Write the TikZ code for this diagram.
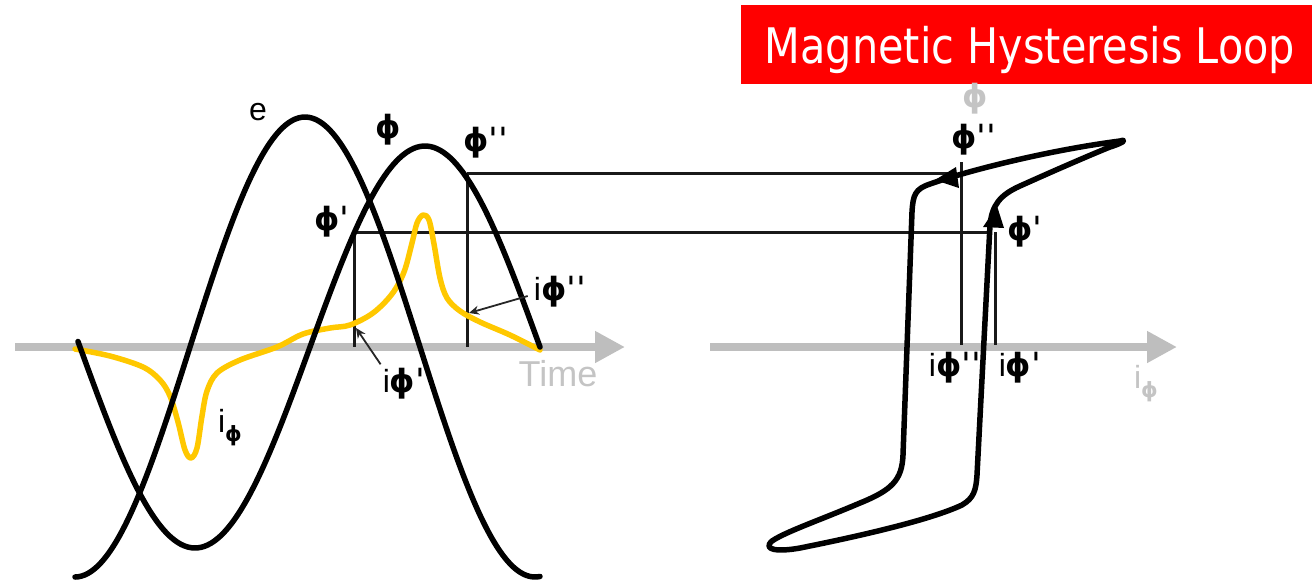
\documentclass[tikz,border=0pt]{standalone}
\usepackage{fontspec}
\usetikzlibrary{arrows.meta}
\setmainfont{Liberation Sans}
\newfontfamily\dvs{DejaVu Sans}
\definecolor{titlered}{HTML}{FF0000}
\definecolor{axisgray}{HTML}{BEBEBE}
\definecolor{labgray}{HTML}{C4C4C4}
\definecolor{ygold}{HTML}{FFC800}
\newcommand\myphi{{\dvs\bfseries ϕ}}
\newcommand\myprime{{\dvs\bfseries ˈ}}
\newcommand\subphi{\raisebox{-9pt}{\fontsize{21}{21}\selectfont\dvs\bfseries ϕ}}
\tikzset{
  curveline/.style={line width=5.5pt, black, line cap=round, line join=round},
  currline/.style={line width=5.5pt, ygold, line cap=round, line join=round},
  guide/.style={line width=3pt, black!90},
  axisline/.style={line width=8pt, axisgray, -{Triangle[length=30pt,width=30pt]}},
  lab/.style={font=\fontsize{32}{32}\selectfont, inner sep=0pt, text=black},
  glab/.style={lab, text=labgray},
  ptr/.style={line width=1.8pt, black!85, -{Stealth[length=10pt,width=9pt]}},
  headfill/.style={fill=black}
}
\begin{document}
\begin{tikzpicture}[x=1pt,y=-1pt]
\useasboundingbox (0,0) rectangle (1312,582);
% title
\fill[titlered] (741,5) rectangle (1312,84);
\node[anchor=base, inner sep=0pt, text=white] (title) at (1030,63)
  {\scalebox{0.845}[1]{\fontsize{49}{49}\selectfont\dvs Magnetic Hysteresis Loop}};
% axes
\draw[axisline] (15,347) -- (625,347);
\draw[axisline] (710,347) -- (1177,347);
\node[glab, font=\fontsize{36}{36}\selectfont] (time) at (558,374) {Time};
\node[glab] (iphiR) at (1146,384) {i\subphi};
\node[glab] (phiax) at (975,99) {\myphi};
% guide lines
\draw[guide] (467,173) -- (948,173);
\draw[guide] (354,232) -- (992,232);
\draw[guide] (467,173) -- (467,347);
\draw[guide] (354,232) -- (354,347);
\draw[guide] (961,162) -- (961,345);
\draw[guide] (995,232) -- (995,345);
% waveforms
\draw[currline] plot[smooth, tension=0.55] coordinates {
 (75,349) (110,356) (143,367) (160,380) (170,396) (178,422) (185,450) (191,458)
 (197,448) (202,416) (207,391) (217,373) (240,360) (277,347) (303,334) (330,328)
 (350,325) (373,313) (392,294) (404,272) (412,243) (417,223) (423,215) (429,220)
 (434,244) (440,278) (447,298) (460,311) (480,322) (510,335) (540,350)};
\draw[curveline] plot[domain=75:540, samples=140, smooth] (\x,{347+230*cos(0.782609*(\x-75))});
\draw[curveline] plot[domain=78:540, samples=140, smooth] (\x,{347+201*sin(0.782609*(\x-80))});
% hysteresis loop
\draw[curveline] (1120,141) .. controls (1050,150) and (970,170) .. (930,184)
  .. controls (915,189) and (913,195) .. (912,212)
  -- (903,455)
  .. controls (902,480) and (892,490) .. (860,503)
  .. controls (820,520) and (785,532) .. (772,541)
  .. controls (762,550) and (778,552) .. (800,548)
  .. controls (860,536) and (930,520) .. (962,505)
  .. controls (974,498) and (976,490) .. (977,475)
  -- (990,225)
  .. controls (992,205) and (1000,195) .. (1020,186)
  .. controls (1060,168) and (1095,153) .. (1110,147)
  .. controls (1126,142) and (1126,139) .. cycle;
\fill[headfill] (935,180) -- (956,167) -- (959,188) -- cycle;
\fill[headfill] (997,206) -- (983,227) -- (1004,228) -- cycle;
% labels left
\node[lab] (e) at (258,112) {e};
\node[lab] (phi) at (388,130) {\myphi};
\node[lab] (phipp) at (486,143) {\myphi\myprime\myprime};
\node[lab] (phip) at (332,222) {\myphi\myprime};
\node[lab] (ipp) at (560,292) {i\myphi\myprime\myprime};
\node[lab] (ip) at (404,384) {i\myphi\myprime};
\node[lab] (iphiL) at (230,428) {i\subphi};
\coordinate (ippt) at (469,313);
\coordinate (ipt) at (356,328);
\draw[ptr] (ipp.west) ++(-6,4) -- (ippt);
\draw[ptr] (ip.north west) ++(-2,-4) -- (ipt);
% labels right
\node[lab] (phippR) at (974,140) {\myphi\myprime\myprime};
\node[lab] (phipR) at (1025,232) {\myphi\myprime};
\node[lab] (ippR) at (955,368) {i\myphi\myprime\myprime};
\node[lab] (ipR) at (1020,368) {i\myphi\myprime};
\end{tikzpicture}
\end{document}
